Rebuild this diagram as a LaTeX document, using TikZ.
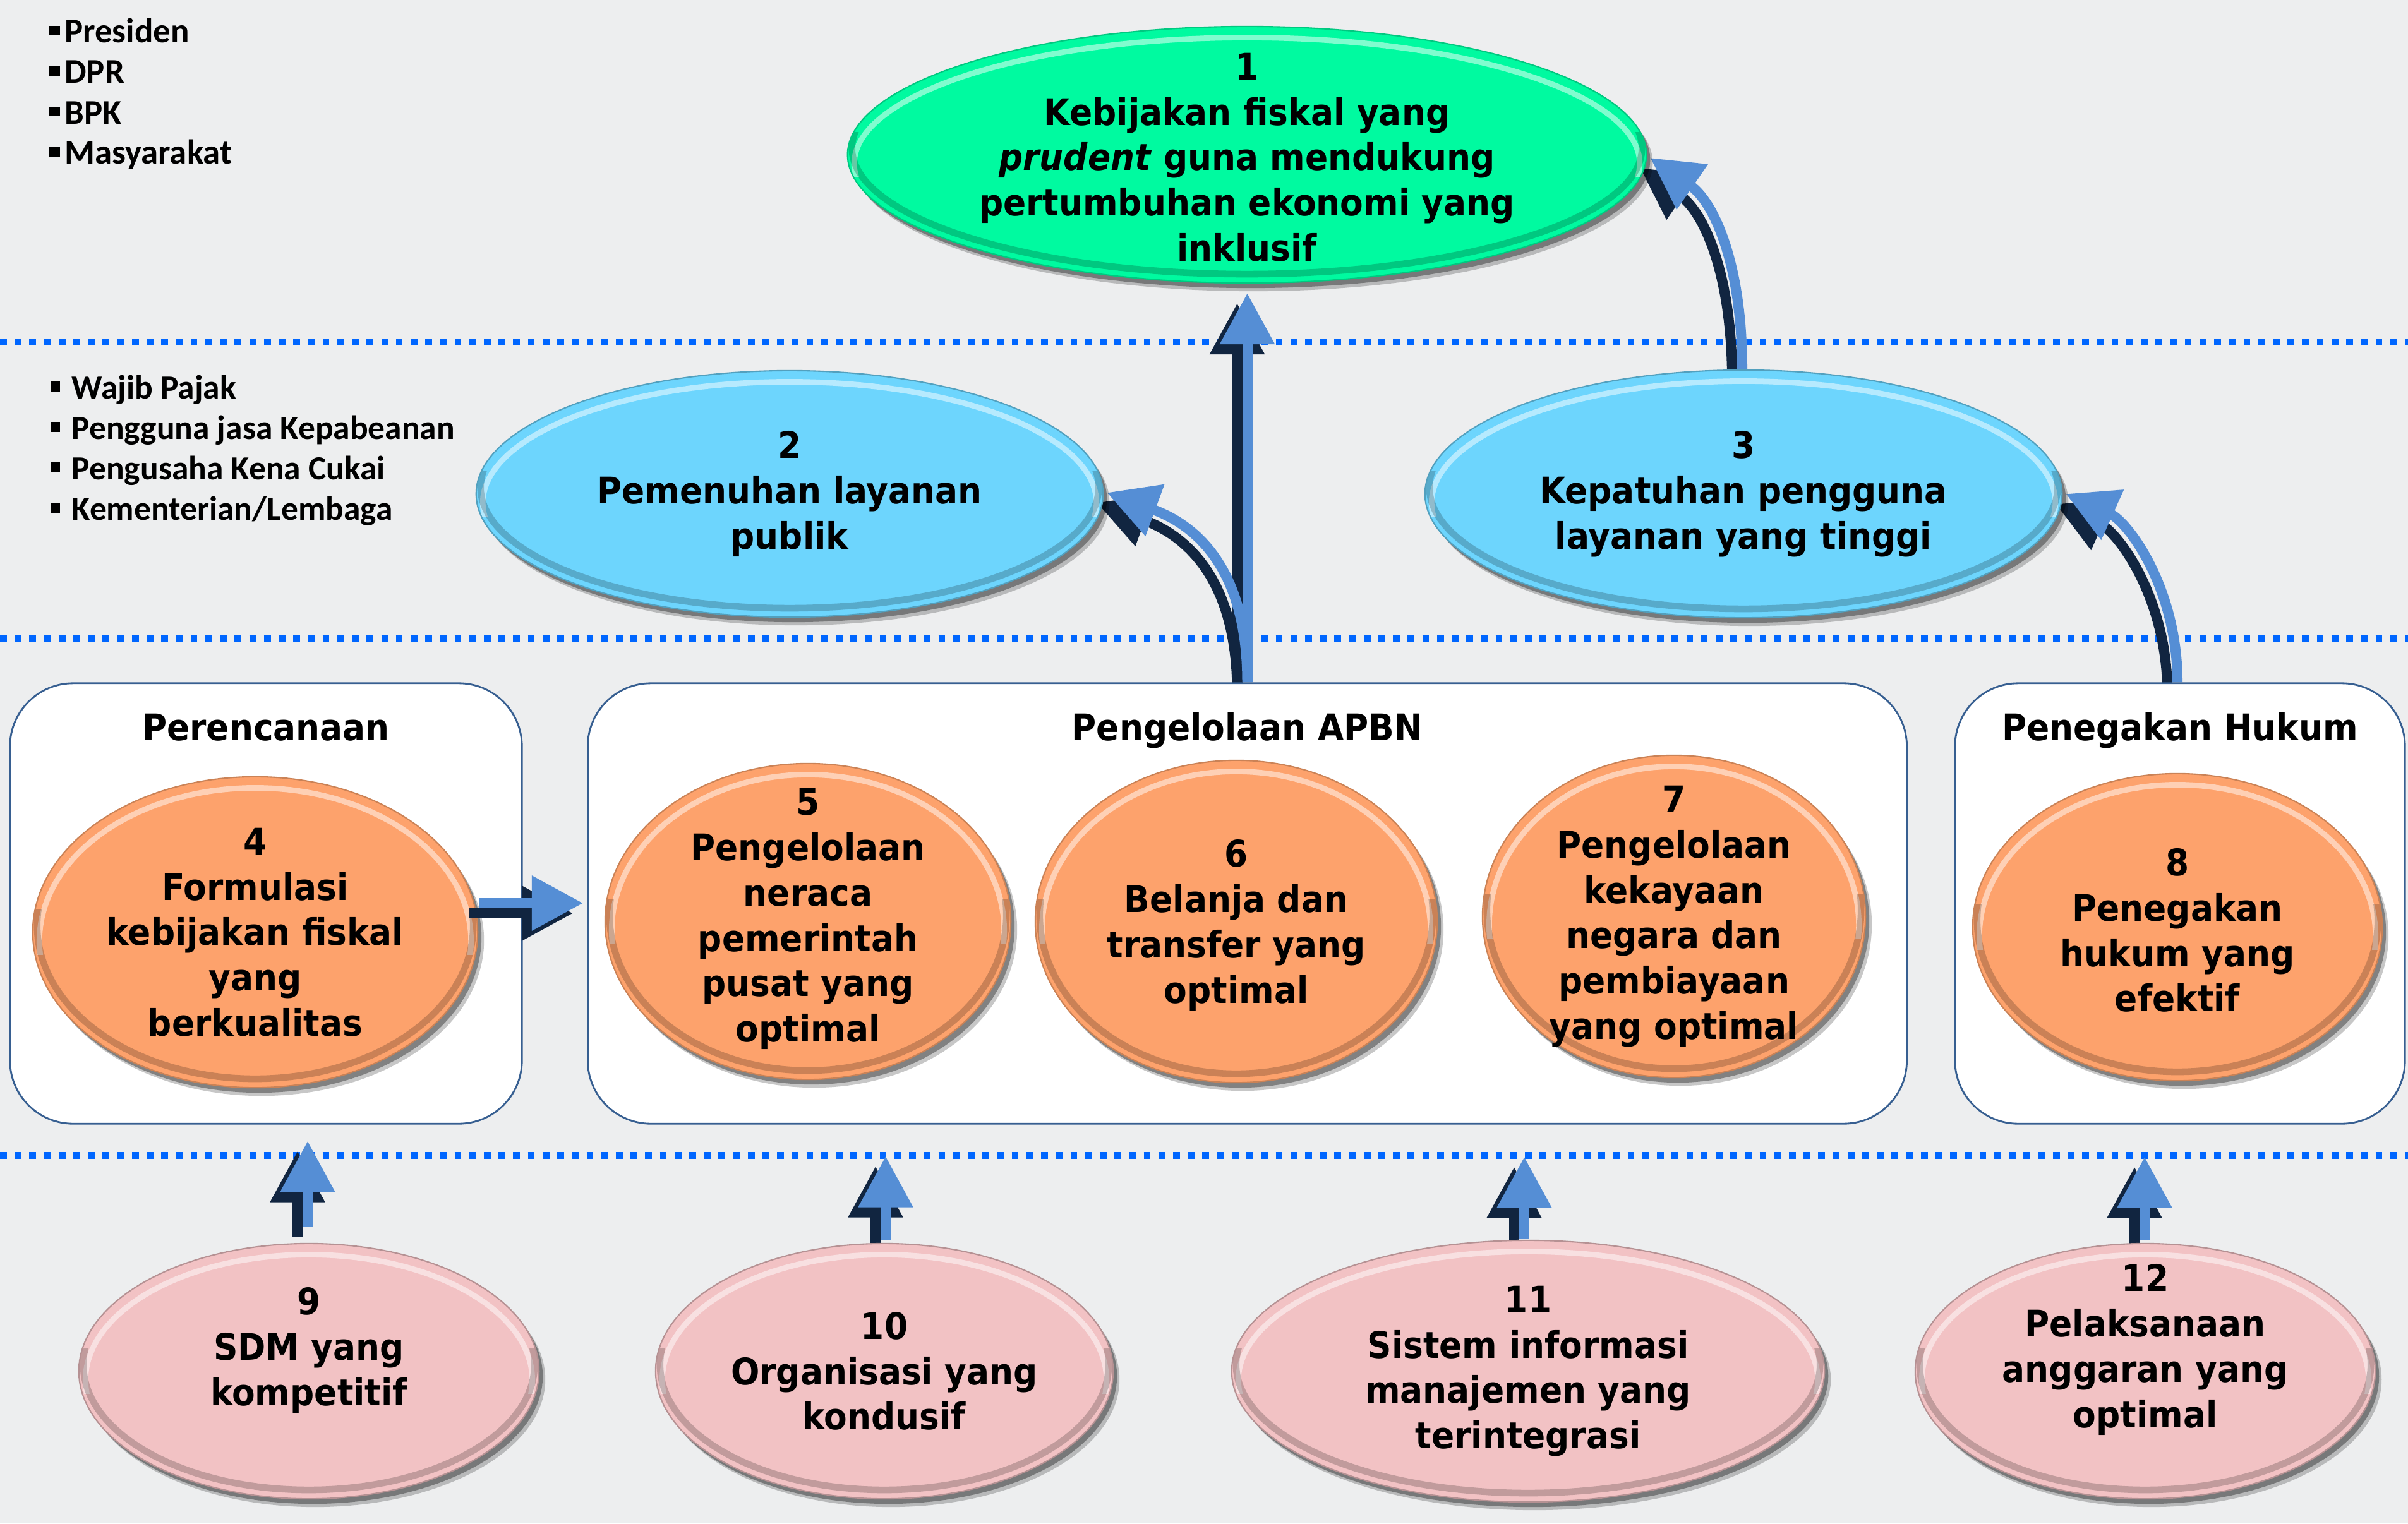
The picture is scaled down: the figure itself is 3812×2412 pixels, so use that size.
\documentclass[tikz,border=0pt]{standalone}
\usepackage{fontspec}
\setmainfont{DejaVu Sans}
\newfontfamily\dv[FakeStretch=0.92]{DejaVu Sans}
\newfontfamily\cb{Carlito}
\usetikzlibrary{shapes.geometric,arrows.meta,calc,shadows}
\definecolor{bgc}{RGB}{237,238,239}
\definecolor{dotc}{RGB}{0,102,255}
\definecolor{arrdark}{RGB}{17,37,64}
\definecolor{arrlight}{RGB}{85,142,213}
\definecolor{grc}{RGB}{0,250,160}
\definecolor{blc}{RGB}{109,213,253}
\definecolor{orc}{RGB}{253,162,108}
\definecolor{pkc}{RGB}{242,194,196}
\definecolor{boxc}{RGB}{55,95,145}
\pgfdeclarelayer{back}\pgfdeclarelayer{arr}\pgfsetlayers{back,arr,main}
\newcommand{\bulA}{\rule[3.4pt]{5pt}{4.4pt}\hspace{2pt}}
\newcommand{\bulB}{\rule[3.2pt]{4.3pt}{4.5pt}\hspace{5.4pt}}
\newcommand{\dblarrow}[1]{%
  \begin{scope}[transform canvas={xshift=-0.16cm,yshift=-0.16cm}]\draw[arrD] #1;\end{scope}%
  \draw[arrL] #1;}
\tikzset{
  ov/.style={ellipse, inner sep=0, outer sep=0, line width=0.6pt,
    drop shadow={shadow xshift=0.10cm, shadow yshift=-0.13cm, opacity=0.22, fill=black},
    drop shadow={shadow xshift=0.06cm, shadow yshift=-0.08cm, opacity=0.35, fill=black},
    path picture={
      \begin{scope}
        \clip ([yshift=2pt]path picture bounding box.north west) rectangle ([yshift=-10pt]path picture bounding box.east);
        \draw[white, opacity=0.5, line width=2.5pt]
          let \p1=($(path picture bounding box.north east)-(path picture bounding box.center)$) in
          ([yshift=-4pt]path picture bounding box.center) ellipse [x radius=\x1-3pt, y radius=\y1-1pt];
      \end{scope}
      \begin{scope}
        \clip ([yshift=-2pt]path picture bounding box.south east) rectangle ([yshift=10pt]path picture bounding box.west);
        \draw[black, opacity=0.2, line width=3pt]
          let \p1=($(path picture bounding box.north east)-(path picture bounding box.center)$) in
          ([yshift=3pt]path picture bounding box.center) ellipse [x radius=\x1-2pt, y radius=\y1-1pt];
      \end{scope}
    }},
  txt/.style={align=center, inner sep=0, font=\dv\bfseries\fontsize{16.5}{20.4}\selectfont},
  lst/.style={anchor=base west, inner sep=0, font=\cb\bfseries\fontsize{15.6}{18}\selectfont},
  lstb/.style={anchor=base west, inner sep=0, font=\cb\bfseries\fontsize{15.2}{18}\selectfont},
  bx/.style={draw=boxc, line width=0.8pt, fill=white, rounded corners=1cm, inner sep=0, minimum height=6.97cm},
  arrL/.style={draw=arrlight, line width=0.16cm, -{Triangle[width=0.83cm,length=0.81cm]}},
  arrD/.style={draw=arrdark, line width=0.16cm, -{Triangle[width=0.83cm,length=0.81cm]}},
  dotl/.style={draw=dotc, line width=0.11cm, dash pattern=on 0.107cm off 0.125cm}
}
\begin{document}
\begin{tikzpicture}[x=0.01cm, y=-0.01cm]
\useasboundingbox (0,0) rectangle (3812,2412);
\begin{pgfonlayer}{back}
  \fill[bgc] (0,0) rectangle (3812,2412);
  \draw[dotl] (0,541) -- (3812,541);
  \draw[dotl] (0,1011) -- (3812,1011);
  \draw[dotl] (0,1829) -- (3812,1829);
\end{pgfonlayer}

% lists
\node[lst] (l1) at (77,68) {\bulA Presiden};
\node[lst] (l2) at (77,132) {\bulA DPR};
\node[lst] (l3) at (77,196) {\bulA BPK};
\node[lst] (l4) at (77,260) {\bulA Masyarakat};
\node[lstb] (m1) at (79,631) {\bulB Wajib Pajak};
\node[lstb] (m2) at (79,695) {\bulB Pengguna jasa Kepabeanan};
\node[lstb] (m3) at (79,759) {\bulB Pengusaha Kena Cukai};
\node[lstb] (m4) at (79,823) {\bulB Kementerian/Lembaga};

% boxes
\node[bx, minimum width=8.10cm] (plan) at (421,1430.5) {};
\node[bx, minimum width=20.87cm] (apbn) at (1974.5,1430.5) {};
\node[bx, minimum width=7.12cm] (hukum) at (3451,1430.5) {};
\node[txt, anchor=base] (tplan) at ($(plan.north)+(0,92)$) {Perencanaan};
\node[txt, anchor=base] (tapbn) at ($(apbn.north)+(0,92)$) {Pengelolaan APBN};
\node[txt, anchor=base] (thukum) at ($(hukum.north)+(0,92)$) {Penegakan Hukum};

% ellipses
\node[ov, fill=grc, draw=grc!80!black, minimum width=12.64cm, minimum height=4.06cm] (e1) at (1974,245) {};
\node[ov, fill=blc, draw=blc!75!black, minimum width=9.92cm, minimum height=3.90cm] (e2) at (1250,782) {};
\node[ov, fill=blc, draw=blc!75!black, minimum width=10.08cm, minimum height=3.92cm] (e3) at (2760,782) {};
\node[ov, fill=orc, draw=orc!80!black, minimum width=7.04cm, minimum height=4.92cm] (e4) at (404,1476) {};
\node[ov, fill=orc, draw=orc!80!black, minimum width=6.42cm, minimum height=5.00cm] (e5) at (1279,1459) {};
\node[ov, fill=orc, draw=orc!80!black, minimum width=6.36cm, minimum height=5.10cm] (e6) at (1957,1459) {};
\node[ov, fill=orc, draw=orc!80!black, minimum width=6.06cm, minimum height=5.10cm] (e7) at (2650,1451) {};
\node[ov, fill=orc, draw=orc!80!black, minimum width=6.48cm, minimum height=4.86cm] (e8) at (3447,1468) {};
\node[ov, fill=pkc, draw=pkc!75!black, minimum width=7.28cm, minimum height=4.04cm] (e9) at (489,2171) {};
\node[ov, fill=pkc, draw=pkc!75!black, minimum width=7.24cm, minimum height=4.04cm] (e10) at (1400,2171) {};
\node[ov, fill=pkc, draw=pkc!75!black, minimum width=9.38cm, minimum height=4.14cm] (e11) at (2419,2171) {};
\node[ov, fill=pkc, draw=pkc!75!black, minimum width=7.28cm, minimum height=4.04cm] (e12) at (3396,2171) {};

\node[txt] (t1) at ($(e1)+(0,4)$) {1\\Kebijakan fiskal yang\\\textit{prudent} guna mendukung\\pertumbuhan ekonomi yang\\inklusif};
\node[txt] (t2) at (e2) {2\\Pemenuhan layanan\\publik};
\node[txt] (t3) at (e3) {3\\Kepatuhan pengguna\\layanan yang tinggi};
\node[txt] (t4) at (e4) {4\\Formulasi\\kebijakan fiskal\\yang\\berkualitas};
\node[txt] (t5) at ($(e5)+(0,-4)$) {5\\Pengelolaan\\neraca\\pemerintah\\pusat yang\\optimal};
\node[txt] (t6) at ($(e6)+(0,6)$) {6\\Belanja dan\\transfer yang\\optimal};
\node[txt] (t7) at ($(e7)+(0,0)$) {7\\Pengelolaan\\kekayaan\\negara dan\\pembiayaan\\yang optimal};
\node[txt] (t8) at ($(e8)+(0,5)$) {8\\Penegakan\\hukum yang\\efektif};
\node[txt] (t9) at ($(e9)+(0,-33)$) {9\\SDM yang\\kompetitif};
\node[txt] (t10) at (e10) {10\\Organisasi yang\\kondusif};
\node[txt] (t11) at (e11) {11\\Sistem informasi\\manajemen yang\\terintegrasi};
\node[txt] (t12) at ($(e12)+(0,-34)$) {12\\Pelaksanaan\\anggaran yang\\optimal};

% arrows (behind nodes)
\begin{pgfonlayer}{arr}
\dblarrow{(apbn.north) -- ($(apbn.north |- e1.south)+(0,16)$)}
\dblarrow{(apbn.north) .. controls +(0,-170) and +(150,55) .. ($(e2.east)+(6,-2)$)}
\dblarrow{($(e3.north)+(-2,0)$) .. controls +(0,-170) and +(100,69) .. ($(e1.east)+(6,5)$)}
\dblarrow{($(hukum.north)+(-4,0)$) .. controls +(0,-150) and +(98,44) .. ($(e3.east)+(6,0)$)}
\dblarrow{($(e9.north)+(-2,-27)$) -- ($(e9.north |- plan.south)+(-2,26)$)}
\dblarrow{($(e10.north)+(2,-6)$) -- ($(e10.north |- apbn.south)+(2,50)$)}
\dblarrow{($(e11.north)+(-6,-2)$) -- ($(e11.north |- apbn.south)+(-6,51)$)}
\dblarrow{($(e12.north)+(-1,-6)$) -- ($(e12.north |- hukum.south)+(-1,51)$)}
\end{pgfonlayer}
\dblarrow{($(e4.east)+(3,-46)$) -- ($(e4.east -| apbn.west)+(-6,-46)$)}
\end{tikzpicture}
\end{document}
